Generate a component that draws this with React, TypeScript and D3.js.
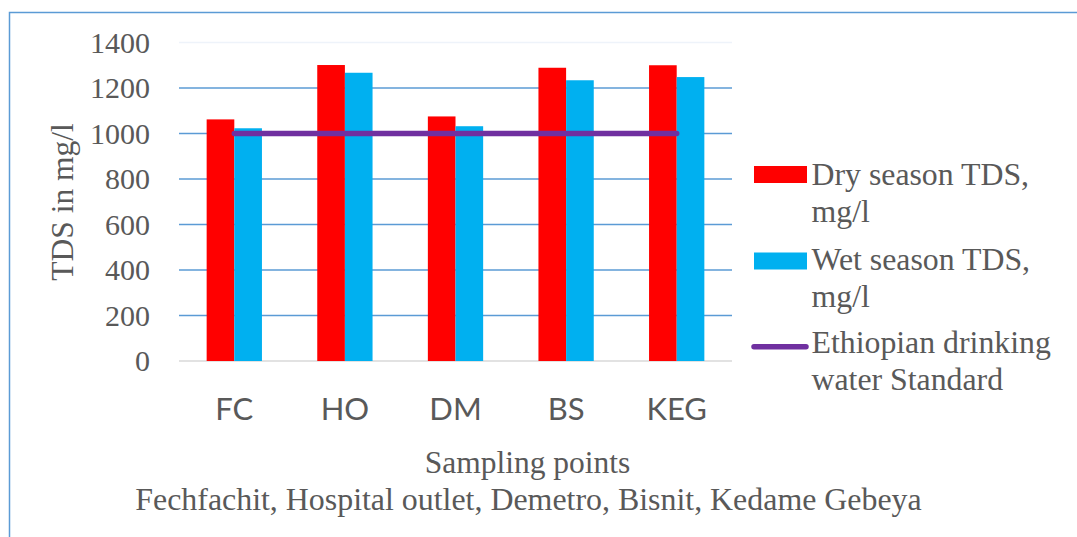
import React from "react";
import * as d3 from "d3";

const categories = ["FC", "HO", "DM", "BS", "KEG"];
const drySeason = [1062, 1301, 1075, 1289, 1300];
const wetSeason = [1023, 1267, 1032, 1234, 1248];
const standard = [1000, 1000, 1000, 1000, 1000];
const yTicks = [0, 200, 400, 600, 800, 1000, 1200, 1400];
const seriesNames = ["Dry season TDS,|mg/l", "Wet season TDS,|mg/l", "Ethiopian drinking|water Standard"];

const W = 1077;
const H = 537;
const plot = { left: 179, right: 732, top: 42.5, bottom: 361 };
const serif = "'Liberation Serif', 'Times New Roman', serif";
const sans = "Lato, Carlito, Calibri, sans-serif";
const textColor = "#595959";
const red = "#FF0000";
const blue = "#00B0F0";
const purple = "#7030A0";
const gridColor = "#5B9BD5";

export default function App() {
  const x = d3.scaleBand<string>().domain(categories).range([plot.left, plot.right]).paddingInner(0).paddingOuter(0);
  const y = d3.scaleLinear().domain([0, 1400]).range([plot.bottom, plot.top]);
  const step = x.step();
  const barW = step * 0.25;
  const line = d3
    .line<number>()
    .x((_, i) => (x(categories[i]) as number) + step / 2)
    .y((d) => y(d));

  return (
    <svg width={W} height={H} style={{ position: "absolute", left: 0, top: 0, background: "#fff" }}>
      <rect x={0} y={0} width={W} height={H} fill="#fff" />
      <rect x={9.5} y={12.5} width={W + 20} height={H + 20} fill="none" stroke={gridColor} strokeWidth={1.5} />
      {yTicks.map((t) => (
        <line
          key={"g" + t}
          x1={plot.left}
          x2={plot.right}
          y1={y(t)}
          y2={y(t)}
          stroke={t === 0 ? "#D9D9D9" : t === 1400 ? "#EEF3FA" : gridColor}
          strokeWidth={1.5}
        />
      ))}
      {yTicks.map((t) => (
        <text
          key={"t" + t}
          x={150}
          y={y(t)}
          dy="0.34em"
          textAnchor="end"
          fontFamily={serif}
          fontSize={30}
          fill={textColor}
        >
          {t}
        </text>
      ))}
      {categories.map((c, i) => {
        const cx = (x(c) as number) + step / 2;
        return (
          <g key={c}>
            <rect x={cx - barW} y={y(drySeason[i])} width={barW} height={y(0) - y(drySeason[i])} fill={red} />
            <rect x={cx} y={y(wetSeason[i])} width={barW} height={y(0) - y(wetSeason[i])} fill={blue} />
            <text x={cx} y={420} textAnchor="middle" fontFamily={sans} fontSize={31} fill={textColor}>
              {c}
            </text>
          </g>
        );
      })}
      <path d={line(standard) || ""} fill="none" stroke={purple} strokeWidth={5.5} strokeLinecap="round" />
      <text
        transform="translate(73,202) rotate(-90)"
        textAnchor="middle"
        fontFamily={serif}
        fontSize={31.5}
        fill={textColor}
      >
        TDS in mg/l
      </text>
      <text x={527.5} y={473} textAnchor="middle" fontFamily={serif} fontSize={31.5} fill={textColor}>
        Sampling points
      </text>
      <text x={528.5} y={510} textAnchor="middle" fontFamily={serif} fontSize={31.9} fill={textColor}>
        Fechfachit, Hospital outlet, Demetro, Bisnit, Kedame Gebeya
      </text>
      {/* legend */}
      <rect x={754} y={166} width={53} height={17} fill={red} />
      <rect x={754} y={252.5} width={53} height={17} fill={blue} />
      <line x1={754} x2={806} y1={346.7} y2={346.7} stroke={purple} strokeWidth={5.5} strokeLinecap="round" />
      {seriesNames.map((s, i) => {
        const base = [185, 270, 353][i];
        const parts = s.split("|");
        return (
          <text key={s} fontFamily={serif} fontSize={31.8} fill={textColor}>
            <tspan x={811.5} y={base}>
              {parts[0]}
            </tspan>
            <tspan x={811.5} y={base + 36.5}>
              {parts[1]}
            </tspan>
          </text>
        );
      })}
    </svg>
  );
}
